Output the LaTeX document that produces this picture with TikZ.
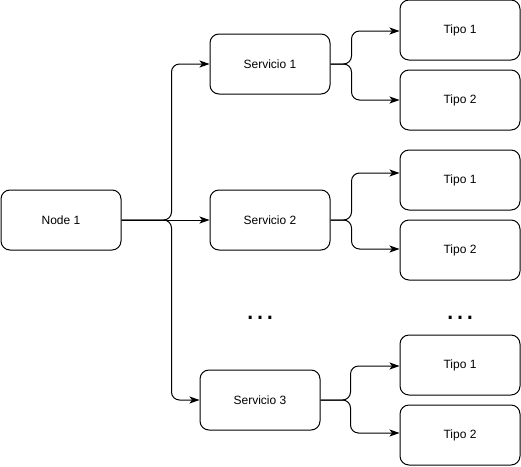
\documentclass[tikz,border=0pt]{standalone}
\usepackage{fontspec}
\setmainfont{Liberation Sans}
\usetikzlibrary{arrows.meta,calc}
\begin{document}
\begin{tikzpicture}[x=1pt,y=-1pt,
  box/.style={draw,line width=1pt,rounded corners=9pt,minimum width=120pt,minimum height=60pt,inner sep=0pt,font=\fontsize{12}{14}\selectfont},
  edge/.style={draw,line width=1pt,rounded corners=8pt,-{Stealth[length=10pt,width=7pt,inset=2.5pt]}},
  dots/.style={font=\fontsize{31}{31}\selectfont,inner sep=0pt,anchor=base}]
\useasboundingbox (0,0) rectangle (521,466);
\node[box] (n1) at (61,220) {Node 1};
\node[box] (s1) at (270,64) {Servicio 1};
\node[box] (s2) at (270,220) {Servicio 2};
\node[box] (s3) at (260,400) {Servicio 3};
\node[box] (t11) at (460,30) {Tipo 1};
\node[box] (t12) at (460,100) {Tipo 2};
\node[box] (t21) at (460,180) {Tipo 1};
\node[box] (t22) at (460,250) {Tipo 2};
\node[box] (t31) at (460,365) {Tipo 1};
\node[box] (t32) at (460,435) {Tipo 2};
\node[dots] (d1) at (260,319) {…};
\node[dots] (d2) at (460,319) {…};
\path[edge] (n1.east) -- ++(50,0) |- (s1.west);
\path[edge] (n1.east) -- (s2.west);
\path[edge] (n1.east) -- ++(50,0) |- (s3.west);
\path[edge] (s1.east) -- ++(21,0) |- ($(t11.west)+(0,1)$);
\path[edge] (s1.east) -- ++(21,0) |- (t12.west);
\path[edge] (s2.east) -- ++(21,0) |- ($(t21.west)+(0,-7)$);
\path[edge] (s2.east) -- ++(21,0) |- ($(t22.west)+(0,-1)$);
\path[edge] (s3.east) -- ++(30,0) |- ($(t31.west)+(0,1)$);
\path[edge] (s3.east) -- ++(30,0) |- ($(t32.west)+(0,-2)$);
\end{tikzpicture}
\end{document}
